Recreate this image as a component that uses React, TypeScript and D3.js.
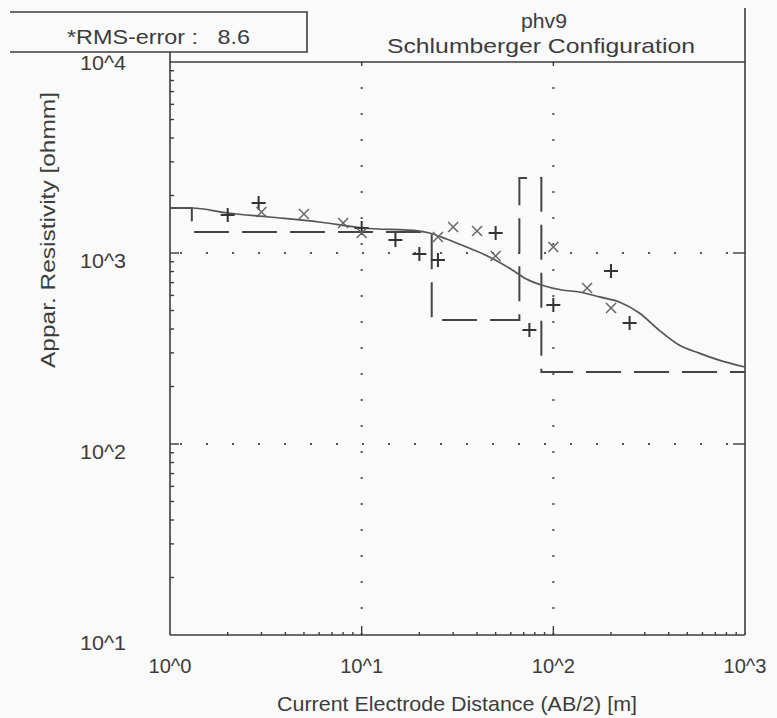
import React from "react";
import * as d3 from "d3";

// measured apparent resistivity (+)
const plusAB = [2, 2.9, 10, 15, 20, 25, 50, 75, 100, 200, 250];
const plusRho = [1581, 1827, 1352, 1170, 988, 919, 1273, 395, 534, 805, 430];

// second data set (x)
const crossAB = [3, 5, 8, 10, 25, 30, 40, 50, 100, 150, 200];
const crossRho = [1640, 1600, 1436, 1273, 1213, 1368, 1304, 965, 1076, 656, 515];

// model response curve
const curveAB = [1, 1.3, 2, 3.3, 6, 10.1, 20, 22.6, 27.7, 35.2, 46.4, 61.1, 72.3, 86.6, 111, 137, 174, 221, 281, 356, 453, 576, 732, 1000];
const curveRho = [1720, 1720, 1620, 1543, 1453, 1352, 1303, 1273, 1184, 1075, 953, 815, 731, 680, 640, 625, 589, 554, 485, 395, 330, 299, 275, 253];

// layered model
const layerRho = [1720, 1288, 446, 2470, 238];
const layerDepth = [1.3, 23.2, 66.5, 86.6];

const xTicks = [1, 10, 100, 1000];
const xTickLabels = ["10^0", "10^1", "10^2", "10^3"];
const yTicks = [10000, 1000, 100, 10];
const yTickLabels = ["10^4", "10^3", "10^2", "10^1"];

const W = 777, H = 718;
const ink = "#3c3c3c";
const font = "'Liberation Sans', Arial, sans-serif";

export default function App() {
  const x = d3.scaleLog().domain([1, 1000]).range([170, 745]);
  const y = d3.scaleLog().domain([10, 10000]).range([635, 62]);
  const [x0, x1] = x.range();
  const [y0, y1] = y.range();

  const minorX: number[] = [];
  [1, 10, 100].forEach((d) => d3.range(2, 10).forEach((k) => minorX.push(k * d)));
  const minorY: number[] = [];
  [10, 100, 1000].forEach((d) => d3.range(2, 10).forEach((k) => minorY.push(k * d)));

  const curveLine = d3
    .line<number>()
    .x((_, i) => x(curveAB[i]))
    .y((d) => y(d))
    .curve(d3.curveMonotoneX);

  // step path of the layer model
  const stepPts: [number, number][] = [];
  let from = 1;
  layerRho.forEach((r, i) => {
    const to = i < layerDepth.length ? layerDepth[i] : 1000;
    stepPts.push([x(from), y(r)]);
    stepPts.push([x(to), y(r)]);
    from = to;
  });
  const stepLine = d3.line()(stepPts);

  const gridX = [10, 100];
  const gridY = [1000, 100];

  return (
    <svg width={W} height={H} style={{ position: "absolute", left: 0, top: 0, background: "#fafafa" }}>
      <rect width={W} height={H} fill="#fafafa" />

      {/* dotted grid */}
      {gridX.map((v) => (
        <line key={"gx" + v} x1={x(v)} x2={x(v)} y1={y0} y2={y1} stroke="#555" strokeWidth={2}
          strokeDasharray="2 24" />
      ))}
      {gridY.map((v) => (
        <line key={"gy" + v} x1={x0} x2={x1} y1={y(v)} y2={y(v)} stroke="#555" strokeWidth={2}
          strokeDasharray="2 24" strokeDashoffset={-10} />
      ))}

      {/* frame */}
      <g stroke={ink} strokeWidth={1.6} fill="none">
        <line x1={x0} x2={x0} y1={52} y2={y0} />
        <line x1={x0} x2={x1} y1={y0} y2={y0} />
        <line x1={x0} x2={x1} y1={y1} y2={y1} />
        <line x1={x1} x2={x1} y1={8} y2={y0} />
        <path d={`M10,12H307V52H10`} />
      </g>

      {/* ticks */}
      <g stroke={ink} strokeWidth={1.4}>
        {minorY.map((v) => (
          <line key={"my" + v} x1={x0} x2={x0 + 4} y1={y(v)} y2={y(v)} />
        ))}
        {[1000, 100].map((v) => (
          <line key={"My" + v} x1={x0} x2={x0 + 9} y1={y(v)} y2={y(v)} />
        ))}
        {[1000, 100].map((v) => (
          <line key={"Ry" + v} x1={x1} x2={x1 - 12} y1={y(v)} y2={y(v)} />
        ))}
        {minorX.map((v) => (
          <line key={"mx" + v} x1={x(v)} x2={x(v)} y1={y0} y2={y0 - 3} />
        ))}
        {[10, 100].map((v) => (
          <line key={"Mx" + v} x1={x(v)} x2={x(v)} y1={y0} y2={y0 - 9} />
        ))}
        {[10, 100].map((v) => (
          <line key={"Tx" + v} x1={x(v)} x2={x(v)} y1={y1} y2={y1 + 4} />
        ))}
      </g>

      {/* layer model */}
      <path d={stepLine || ""} fill="none" stroke="#444" strokeWidth={2} strokeDasharray="35 13" />

      {/* model response */}
      <path d={curveLine(curveRho) || ""} fill="none" stroke="#555" strokeWidth={1.7} />

      {/* data markers */}
      <g stroke="#333" strokeWidth={2}>
        {plusAB.map((a, i) => (
          <path key={"p" + i} d={`M${x(a) - 7},${y(plusRho[i])}h14M${x(a)},${y(plusRho[i]) - 7}v14`} />
        ))}
      </g>
      <g stroke="#666" strokeWidth={1.5}>
        {crossAB.map((a, i) => (
          <path key={"c" + i}
            d={`M${x(a) - 5},${y(crossRho[i]) - 5}l10,10M${x(a) - 5},${y(crossRho[i]) + 5}l10,-10`} />
        ))}
      </g>

      {/* tick labels and titles */}
      <g fill={ink} fontFamily={font} fontSize={21}>
        {xTicks.map((v, i) => (
          <text key={"xl" + v} x={x(v)} y={673} textAnchor="middle" textLength={43}
            lengthAdjust="spacingAndGlyphs">{xTickLabels[i]}</text>
        ))}
        {yTicks.map((v, i) => (
          <text key={"yl" + v} x={103} y={y(v) + (i === 0 ? 8 : 15)} textAnchor="middle" textLength={46}
            lengthAdjust="spacingAndGlyphs">{yTickLabels[i]}</text>
        ))}
        <text x={457} y={711} textAnchor="middle" textLength={360} lengthAdjust="spacingAndGlyphs">
          Current Electrode Distance (AB/2) [m]
        </text>
        <text transform="translate(55,230) rotate(-90)" textAnchor="middle" textLength={276}
          lengthAdjust="spacingAndGlyphs">Appar. Resistivity [ohmm]</text>
        <text x={544} y={28} textAnchor="middle" textLength={46} lengthAdjust="spacingAndGlyphs">phv9</text>
        <text x={541} y={53} textAnchor="middle" textLength={308} lengthAdjust="spacingAndGlyphs">
          Schlumberger Configuration
        </text>
        <text x={67} y={44} xmlSpace="preserve" textLength={183} lengthAdjust="spacingAndGlyphs">
          *RMS-error :   8.6
        </text>
      </g>
    </svg>
  );
}
